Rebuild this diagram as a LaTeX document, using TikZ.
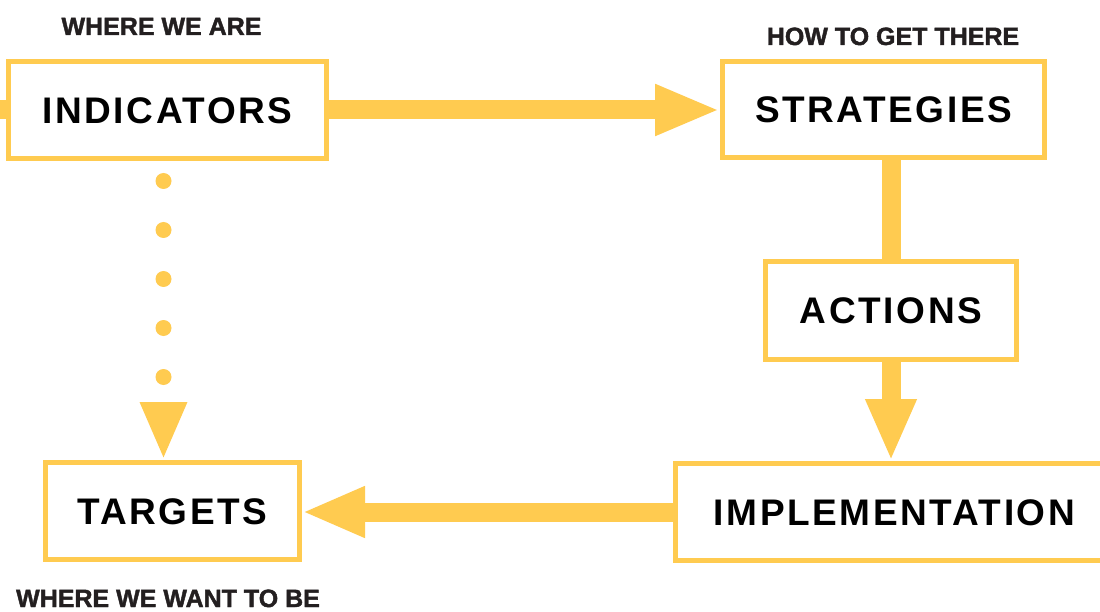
\documentclass[tikz,border=0pt]{standalone}
\usepackage{fontspec}
\setmainfont{Liberation Sans}
\newfontfamily\boxfont[LetterSpace=7]{Liberation Sans}
\newfontfamily\capfont[FakeBold=1.6]{Liberation Sans Bold}
\usetikzlibrary{arrows.meta}
\definecolor{gold}{RGB}{255,203,80}
\definecolor{ink}{RGB}{35,31,32}
\begin{document}
\begin{tikzpicture}[x=1pt,y=-1pt,
  box/.style={draw=gold, line width=5pt, fill=white, inner sep=0pt,
    font=\boxfont\bfseries\fontsize{37}{40}\selectfont, text=black,
    text height=26.5pt, text depth=0pt, minimum height=97pt},
  shaft/.style={draw=gold, line width=19pt},
  head/.style={-{Triangle[length=65pt,width=47pt]}},
  note/.style={font=\capfont\fontsize{25}{28}\selectfont, text=ink, anchor=base, inner sep=0pt}]

\fill[white] (0,0) rectangle (1100,612);
\useasboundingbox (0,0) rectangle (1100,612);

\node[box, minimum width=318pt] (ind) at (167.5,110) {INDICATORS};
\node[box, minimum width=322pt, minimum height=96pt] (str) at (883.5,109.5) {STRATEGIES};
\node[box, minimum width=251pt, minimum height=98pt] (act) at (891,310.5) {ACTIONS};
\node[box, minimum width=438pt] (imp) at (894.5,512) {IMPLEMENTATION};
\node[box, minimum width=254pt] (tgt) at (172.5,511) {TARGETS};

\node[note] (l1) at (161.5,35) {WHERE WE ARE};
\node[note] (l2) at (893,45) {HOW TO GET THERE};
\node[note] (l3) at (168,607) {WHERE WE WANT TO BE};

\coordinate (lin) at (-10,109);
\draw[shaft] (lin |- ind.west) -- (ind.west);
\draw[shaft, head] (ind.east) -- (ind.east -| str.west);
\draw[shaft] (act.north |- str.south) -- (act.north);
\draw[shaft, -{Triangle[length=62pt,width=47pt]}] (act.south) -- (act.south |- imp.north);
\draw[shaft, -{Triangle[length=63pt,width=47pt]}] (imp.west) -- (imp.west -| tgt.east);
\draw[gold, line width=16pt, line cap=round, dash pattern=on 0pt off 49pt, dash phase=29pt,
  -{Triangle[length=58pt,width=43pt]}] ([xshift=-4pt]ind.south) -- ([xshift=-9pt]tgt.north);
\end{tikzpicture}
\end{document}
